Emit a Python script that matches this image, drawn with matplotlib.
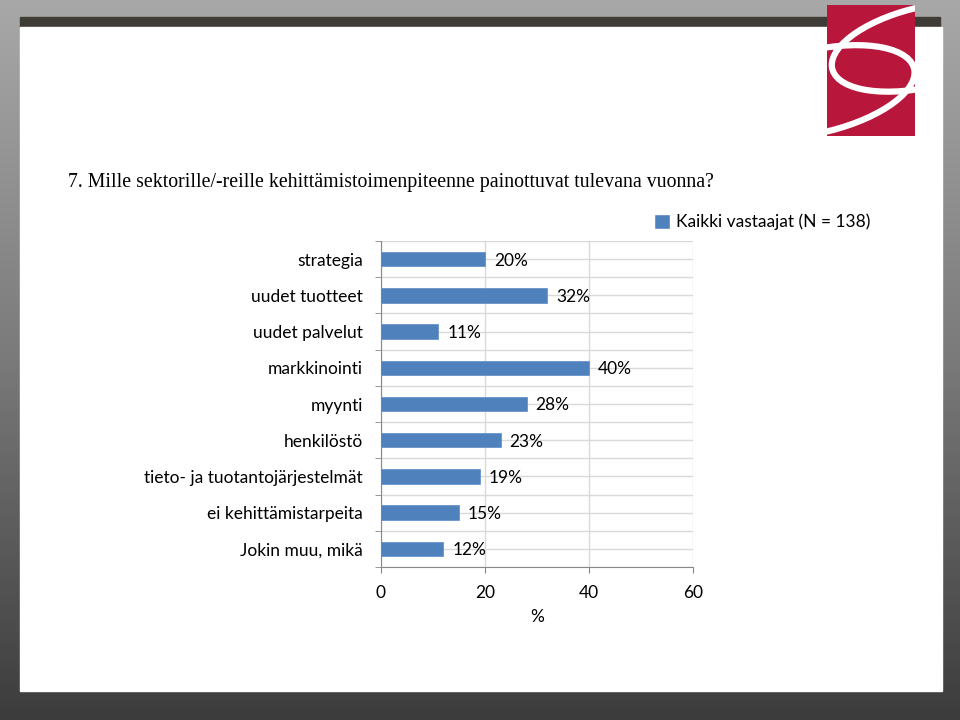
import numpy as np
import matplotlib.pyplot as plt
from matplotlib.patches import Rectangle, Ellipse
from matplotlib.colors import LinearSegmentedColormap

categories = ['strategia', 'uudet tuotteet', 'uudet palvelut', 'markkinointi',
              'myynti', 'henkilöstö', 'tieto- ja tuotantojärjestelmät',
              'ei kehittämistarpeita', 'Jokin muu, mikä']
values = [20, 32, 11, 40, 28, 23, 19, 15, 12]
series_name = 'Kaikki vastaajat (N = 138)'
title = '7. Mille sektorille/-reille kehittämistoimenpiteenne painottuvat tulevana vuonna?'
xticks = [0, 20, 40, 60]

W, H = 960, 720
fig = plt.figure(figsize=(9.6, 7.2), dpi=100, facecolor='#6b6b6b')

def px(x0, y0, x1, y1):
    # pixel box (top-left origin) -> figure fraction rect
    return (x0 / W, 1 - y1 / H, (x1 - x0) / W, (y1 - y0) / H)

# wood-ish backdrop: plain grey gradient, light at top, dark at bottom
bg = fig.add_axes([0, 0, 1, 1])
bg.set_zorder(-5)
bg.axis('off')
wood = LinearSegmentedColormap.from_list('wood', ['#a8a8a8', '#7a7a7a', '#3c3c3c'])
bg.imshow(np.linspace(0, 1, 256).reshape(-1, 1), cmap=wood, aspect='auto',
          extent=(0, 1, 1, 0))
bg.set_xlim(0, 1)
bg.set_ylim(1, 0)

# slide: dark top band + white panel (coords from the top)
bg.add_patch(Rectangle((20 / W, 17 / H), 920 / W, 10 / H, color='#3f3b35'))
bg.add_patch(Rectangle((20 / W, 27 / H), 922 / W, 664 / H, color='white'))

# logo
lax = fig.add_axes(px(827, 5, 915, 136))
lax.set_zorder(3)
lax.set_xlim(0, 1)
lax.set_ylim(0, 1)
lax.axis('off')
lax.add_patch(Rectangle((0, 0), 1, 1, color='#b8163b'))
lax.add_patch(Ellipse((1.12, 0.68), 2.15, 0.62, angle=8, fill=False, ec='white', lw=4.5, clip_on=True))
lax.add_patch(Ellipse((-0.12, 0.34), 2.25, 0.64, angle=8, fill=False, ec='white', lw=4.5, clip_on=True))

fig.text(68 / W, 1 - 183 / H, title, fontsize=14.3, family='Liberation Serif',
         ha='left', va='center', color='black')

ax = fig.add_axes(px(381, 241, 693, 567))
ax.set_zorder(2)
ax.patch.set_alpha(0)
pos = list(range(len(categories)))
ax.barh(pos, values, height=0.4, color='#4f81bd', edgecolor='#5b8cc8', lw=0.5,
        zorder=3, label=series_name)
ax.set_ylim(len(categories) - 0.5, -0.5)
ax.set_xlim(0, 60)
ax.set_xticks(xticks)
ax.set_yticks(pos)
ax.set_yticklabels(categories)
ax.set_yticks([p - 0.5 for p in pos] + [len(pos) - 0.5], minor=True)
ax.tick_params(axis='y', which='major', length=0, pad=13, labelsize=12.5)
ax.tick_params(axis='y', which='minor', length=4, color='#888888')
ax.tick_params(axis='x', length=4, color='#888888', pad=9, labelsize=12.5)
for lab in ax.get_yticklabels() + ax.get_xticklabels():
    lab.set_family('Lato')
ax.grid(True, which='both', axis='y', color='#d9d9d9', lw=1, zorder=0)
ax.grid(True, which='major', axis='x', color='#d9d9d9', lw=1, zorder=0)
for s in ['top', 'right']:
    ax.spines[s].set_visible(False)
for s in ['left', 'bottom']:
    ax.spines[s].set_color('#888888')
ax.set_xlabel('%', family='Lato', fontsize=12.5, labelpad=6)

for p, v in zip(pos, values):
    ax.annotate(f'{v}%', (v, p), xytext=(6.5, -1), textcoords='offset points',
                va='center', ha='left', fontsize=12.5, family='Lato', zorder=4)

fig.legend(loc='center left', bbox_to_anchor=(655 / W, 1 - 222 / H), frameon=False,
           prop={'family': 'Lato', 'size': 12.5}, handlelength=0.8, handleheight=0.8,
           handletextpad=0.4, borderpad=0, borderaxespad=0)

fig.savefig('out.png', dpi=100, facecolor=fig.get_facecolor())
